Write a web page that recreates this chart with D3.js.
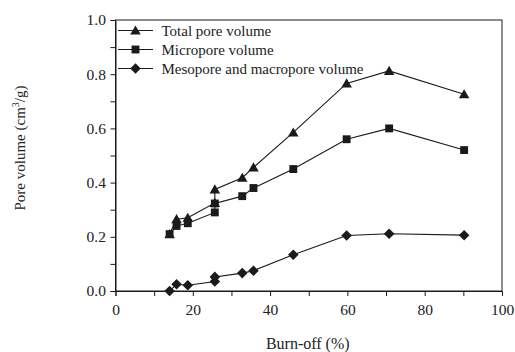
<!DOCTYPE html>
<html>
<head>
<meta charset="utf-8">
<script src="https://cdn.jsdelivr.net/npm/d3@7"></script>
<style>
  html, body { margin: 0; padding: 0; background: #fff; }
  svg { display: block; }
  text { font-family: "Liberation Serif", "Times New Roman", serif; fill: #222; }
</style>
</head>
<body>
<div id="chart"></div>
<script>
// Burn-off (%) of each sample
const burnOff = [14, 15.8, 18.7, 25.7, 25.7, 32.8, 35.7, 46, 59.8, 70.8, 90.2];
// Pore volumes (cm3/g)
const totalVolume = [0.21, 0.265, 0.27, 0.325, 0.375, 0.418, 0.456, 0.585, 0.766, 0.812, 0.726];
const microVolume = [0.21, 0.24, 0.25, 0.29, 0.323, 0.35, 0.38, 0.45, 0.56, 0.60, 0.52];
const mesoVolume  = [0.0, 0.025, 0.021, 0.035, 0.052, 0.066, 0.075, 0.134, 0.205, 0.211, 0.206];

const seriesNames = ["Total pore volume", "Micropore volume", "Mesopore and macropore volume"];
const xTicks = [0, 20, 40, 60, 80, 100];
const yTicks = [0.0, 0.2, 0.4, 0.6, 0.8, 1.0];

const W = 515, H = 352;
const m = { left: 115.5, right: 13, top: 20, bottom: 61 };

const svg = d3.select("#chart").append("svg").attr("width", W).attr("height", H);

const x = d3.scaleLinear().domain([0, 100]).range([m.left, W - m.right]);
const y = d3.scaleLinear().domain([0, 1]).range([H - m.bottom, m.top]);

const ink = "#1a1a1a";

// frame
svg.append("rect")
  .attr("x", x(0)).attr("y", y(1))
  .attr("width", x(100) - x(0)).attr("height", y(0) - y(1))
  .attr("fill", "none").attr("stroke", ink).attr("stroke-width", 1);

// x axis: major ticks labelled, minor ticks every 10
const xAxis = svg.append("g").attr("transform", `translate(0,${y(0)})`)
  .call(d3.axisBottom(x).tickValues(d3.range(0, 101, 10)).tickSize(5)
    .tickFormat(d => xTicks.includes(d) ? d : ""));
xAxis.select(".domain").attr("stroke", ink);
xAxis.selectAll(".tick line").attr("stroke", ink);
xAxis.selectAll(".tick text").attr("font-size", 15.5).attr("font-family", "Liberation Serif, serif")
  .attr("fill", "#222").attr("dy", "1.05em");

// y axis
const yAxis = svg.append("g").attr("transform", `translate(${x(0)},0)`)
  .call(d3.axisLeft(y).tickValues(d3.range(0, 1.01, 0.1).map(v => +v.toFixed(1))).tickSize(5)
    .tickFormat(d => yTicks.some(t => Math.abs(t - d) < 1e-9) ? d3.format(".1f")(d) : ""));
yAxis.select(".domain").attr("stroke", ink);
yAxis.selectAll(".tick line").attr("stroke", ink);
yAxis.selectAll(".tick text").attr("font-size", 15.5).attr("font-family", "Liberation Serif, serif")
  .attr("fill", "#222").attr("dx", "-0.1em");

// axis titles
svg.append("text")
  .attr("x", (x(0) + x(100)) / 2 - 1).attr("y", 349)
  .attr("text-anchor", "middle").attr("font-size", 16)
  .text("Burn-off (%)");

const yTitle = svg.append("text")
  .attr("transform", "translate(25,148) rotate(-90)")
  .attr("text-anchor", "middle").attr("font-size", 15);
yTitle.append("tspan").text("Pore volume (cm");
yTitle.append("tspan").attr("font-size", 10).attr("dy", -6).text("3");
yTitle.append("tspan").attr("dy", 6).text("/g)");

// marker shapes: triangle, square, and a square diamond (rotated square)
const diamond = {
  draw(ctx, size) {
    const r = Math.sqrt(size / 2);
    ctx.moveTo(0, -r); ctx.lineTo(r, 0); ctx.lineTo(0, r); ctx.lineTo(-r, 0); ctx.closePath();
  }
};
const symbols = [
  d3.symbol().type(d3.symbolTriangle).size(48),
  d3.symbol().type(d3.symbolSquare).size(62),
  d3.symbol().type(diamond).size(56)
];
const seriesValues = [totalVolume, microVolume, mesoVolume];

const line = d3.line().x(d => x(d[0])).y(d => y(d[1]));

seriesValues.forEach((vals, i) => {
  const pts = burnOff.map((b, j) => [b, vals[j]]);
  svg.append("path").datum(pts)
    .attr("d", line).attr("fill", "none").attr("stroke", ink).attr("stroke-width", 1.1);
  svg.append("g").selectAll("path").data(pts).join("path")
    .attr("transform", d => `translate(${x(d[0])},${y(d[1]) + (i === 0 ? 1 : 0)})`)
    .attr("d", symbols[i]()).attr("fill", ink);
});

// legend
const legend = svg.append("g");
seriesNames.forEach((name, i) => {
  const ly = 30.5 + i * 19;
  legend.append("line").attr("x1", 118).attr("x2", 153).attr("y1", ly).attr("y2", ly)
    .attr("stroke", ink).attr("stroke-width", 1.1);
  legend.append("path").attr("transform", `translate(135.5,${ly + (i === 0 ? 1 : 0)})`)
    .attr("d", symbols[i]()).attr("fill", ink);
  legend.append("text").attr("x", 161.5).attr("y", ly + 5).attr("font-size", 15).text(name);
});
</script>
</body>
</html>
